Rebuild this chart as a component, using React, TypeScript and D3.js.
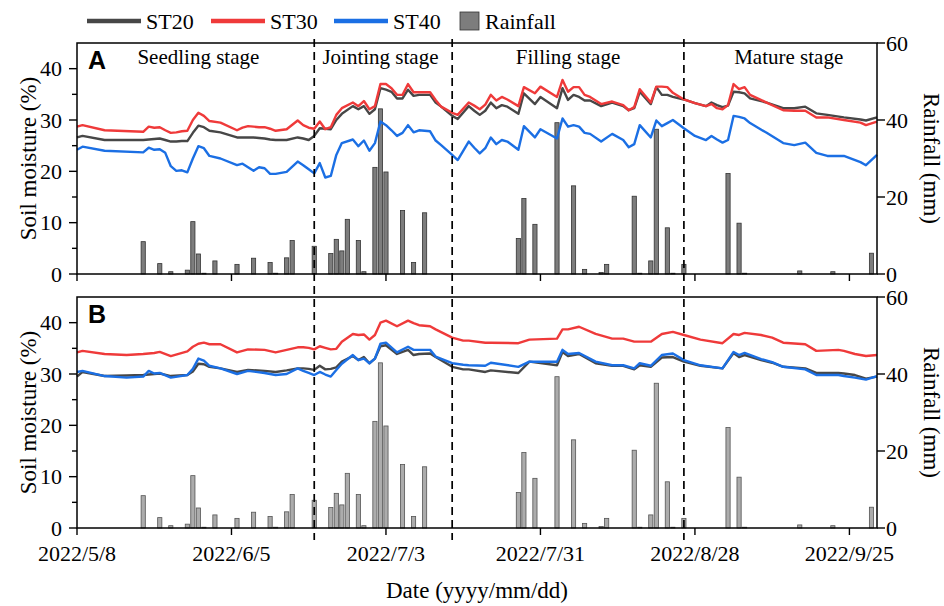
import React, { useEffect, useRef } from 'react';
import * as d3 from 'd3';

// day offsets are counted from 2022/5/8
const START = new Date(2022, 4, 8);
const END = new Date(2022, 8, 30);

const xTickLabels = ['2022/5/8', '2022/6/5', '2022/7/3', '2022/7/31', '2022/8/28', '2022/9/25'];
const stageNames = ['Seedling stage', 'Jointing stage', 'Filling stage', 'Mature stage'];
const stageLabelDates = ['2022/5/30', '2022/7/2', '2022/8/5', '2022/9/14'];
const stageBreaks = ['2022/6/20', '2022/7/15', '2022/8/26'];
const seriesNames = ['ST20', 'ST30', 'ST40'];
const moistureTicks = [0, 10, 20, 30, 40];
const rainTicks = [0, 20, 40, 60];

// Panel A
const daysA = [
  0, 1, 5, 12, 13, 14, 15, 16, 17, 18,
  19, 20, 21, 22, 23, 24, 26, 29, 30, 31,
  32, 33, 34, 35, 36, 38, 40, 41, 42, 43,
  44, 45, 46, 47, 48, 50, 51, 52, 53, 54,
  55, 56, 57, 58, 59, 60, 61, 62, 64, 65,
  66, 68, 69, 71, 72, 73, 74, 75, 76, 77,
  78, 80, 81, 83, 84, 87, 88, 89, 90, 91,
  92, 93, 95, 97, 99, 100, 101, 102, 104, 105,
  106, 107, 108, 110, 112, 114, 115, 116, 117, 118,
  119, 120, 121, 122, 125, 128, 130, 132, 134, 136,
  139, 142, 143, 145,
];
const st20A = [
  26.6, 26.9, 26.1, 26.1, 26.2, 26.3, 26.4, 26.1, 25.8, 25.8,
  25.9, 25.9, 27.5, 28.9, 28.6, 27.9, 27.6, 26.6, 26.6, 26.6,
  26.6, 26.5, 26.4, 26.2, 26.1, 26.1, 26.6, 26.4, 26.1, 26.9,
  28.4, 28.3, 28.2, 30.0, 31.2, 32.7, 32.1, 32.7, 31.2, 32.1,
  36.2, 35.9, 35.5, 34.2, 34.2, 35.9, 34.7, 34.9, 34.9, 33.4,
  32.6, 30.8, 30.2, 32.7, 31.8, 31.0, 31.8, 33.4, 32.3, 32.9,
  32.6, 31.2, 35.2, 33.1, 34.5, 32.3, 36.2, 33.9, 34.9, 34.5,
  33.8, 33.8, 32.7, 33.4, 32.7, 31.9, 32.3, 35.5, 33.1, 36.4,
  34.9, 34.9, 34.5, 34.0, 33.3, 32.7, 33.4, 32.9, 32.5, 32.8,
  35.5, 35.4, 35.2, 34.2, 33.4, 32.3, 32.3, 32.6, 31.3, 31.0,
  30.5, 30.1, 29.9, 30.5,
];
const st30A = [
  28.7, 29.0, 28.0, 27.7, 28.7, 28.5, 28.6, 28.0, 27.5, 27.6,
  27.8, 27.9, 30.0, 31.4, 30.8, 29.8, 29.5, 28.0, 28.5, 28.8,
  28.7, 28.6, 28.6, 28.3, 27.9, 28.2, 29.9, 29.0, 28.5, 28.3,
  29.7, 28.2, 28.6, 31.0, 32.3, 33.4, 32.7, 33.7, 32.1, 32.7,
  37.0, 37.0, 36.2, 34.9, 34.9, 37.0, 35.4, 35.4, 35.4, 33.9,
  32.6, 31.4, 31.0, 33.4, 32.8, 32.1, 33.0, 34.9, 33.8, 34.5,
  34.0, 32.7, 36.4, 35.2, 36.5, 34.5, 37.8, 35.5, 36.4, 36.4,
  34.9, 34.5, 33.1, 33.6, 32.9, 31.9, 32.5, 36.0, 33.4, 36.5,
  36.5, 36.4, 35.3, 34.0, 33.3, 32.7, 33.1, 32.3, 32.1, 32.9,
  37.0, 36.0, 36.4, 34.9, 33.4, 31.9, 31.8, 31.8, 30.5, 30.5,
  30.0, 29.5, 29.0, 29.7,
];
const st40A = [
  24.2, 24.8, 24.0, 23.7, 24.6, 24.2, 24.3, 23.6, 21.0, 20.1,
  20.2, 19.8, 22.5, 24.9, 24.5, 23.0, 22.5, 21.2, 21.5, 20.8,
  20.1, 20.8, 20.6, 19.5, 19.5, 19.9, 21.9, 21.2, 20.4, 19.6,
  21.6, 18.8, 19.1, 23.2, 25.5, 26.2, 24.9, 26.0, 24.0, 25.5,
  29.7, 29.0, 28.0, 26.9, 27.5, 29.0, 27.6, 28.0, 27.8, 26.0,
  25.1, 23.2, 22.2, 25.8, 24.6, 23.5, 24.5, 26.6, 25.3, 26.1,
  25.8, 24.2, 28.8, 26.6, 28.2, 26.4, 30.3, 28.7, 29.0, 28.7,
  27.5, 27.3, 25.8, 27.3, 26.1, 24.7, 25.3, 29.0, 26.6, 29.9,
  28.8, 29.4, 30.0, 28.4, 26.9, 26.1, 26.9, 26.2, 25.6, 26.1,
  30.8, 30.6, 30.3, 29.4, 27.5, 25.5, 25.1, 25.6, 23.6, 23.0,
  23.0, 21.8, 21.2, 23.2,
];

// Panel B
const daysB = [
  0, 1, 5, 9, 12, 13, 14, 15, 17, 20,
  21, 22, 23, 24, 26, 29, 31, 34, 36, 38,
  40, 41, 42, 43, 44, 45, 46, 47, 48, 50,
  51, 52, 53, 54, 55, 56, 58, 60, 61, 62,
  64, 65, 68, 70, 71, 74, 75, 80, 82, 87,
  88, 89, 91, 94, 97, 99, 101, 102, 104, 106,
  108, 110, 113, 117, 119, 120, 121, 124, 126, 128,
  132, 134, 138, 139, 141, 143, 145,
];
const st20B = [
  29.5, 30.4, 29.6, 29.7, 29.8, 29.9, 30.0, 30.1, 29.6, 29.8,
  30.5, 32.0, 31.9, 31.4, 31.1, 30.4, 30.8, 30.6, 30.4, 30.7,
  31.1, 31.1, 31.0, 30.8, 31.6, 30.9, 31.0, 31.3, 32.4, 33.5,
  32.7, 33.3, 32.1, 33.0, 35.4, 35.6, 33.9, 34.7, 33.7, 33.9,
  34.0, 33.3, 31.4, 30.9, 30.9, 30.4, 30.7, 30.2, 32.4, 31.7,
  34.3, 33.5, 33.9, 32.1, 31.6, 31.6, 30.9, 31.7, 31.4, 33.2,
  33.3, 32.4, 31.6, 31.1, 34.1, 33.3, 33.7, 32.7, 32.2, 31.4,
  31.1, 30.2, 30.2, 30.1, 29.8, 29.1, 29.5,
];
const st30B = [
  34.2, 34.5, 33.9, 33.7, 33.9, 34.0, 34.1, 34.3, 33.5, 34.4,
  35.3, 35.9, 36.1, 35.8, 35.8, 34.2, 34.8, 34.7, 34.2, 34.7,
  35.2, 35.2, 35.1, 34.8, 35.4, 35.1, 34.8, 34.9, 36.3, 37.8,
  37.6, 37.7, 36.7, 37.6, 40.0, 40.4, 39.3, 40.4, 39.9, 39.5,
  39.3, 38.7, 37.1, 36.5, 36.5, 36.1, 36.1, 36.0, 36.7, 36.9,
  38.7, 38.7, 39.2, 37.8, 36.9, 36.9, 36.3, 36.3, 36.3, 37.8,
  38.2, 37.6, 36.7, 36.0, 37.8, 37.6, 38.0, 37.6, 37.1, 36.1,
  35.8, 34.5, 34.7, 34.5, 33.9, 33.5, 33.7,
];
const st40B = [
  30.4, 30.6, 29.6, 29.3, 29.5, 30.6, 30.1, 30.2, 29.3, 29.8,
  31.0, 33.0, 32.6, 31.6, 31.1, 30.0, 30.6, 30.2, 29.8, 30.0,
  31.1, 30.6, 30.2, 29.8, 30.4, 29.9, 29.5, 30.8, 32.0, 33.7,
  32.7, 33.0, 32.1, 33.0, 35.9, 36.1, 34.2, 35.3, 34.7, 34.7,
  34.7, 33.4, 32.1, 31.8, 31.7, 31.6, 32.2, 31.4, 32.4, 32.4,
  34.7, 33.9, 34.1, 32.4, 31.7, 31.7, 31.1, 32.1, 31.6, 33.7,
  34.0, 32.7, 31.7, 31.1, 34.3, 33.7, 34.1, 32.9, 32.3, 31.4,
  30.9, 29.8, 29.8, 29.6, 29.3, 28.9, 29.6,
];

// Rainfall (same in both panels)
const rainDays = [
  12, 15, 17, 20, 21, 22, 23, 25, 29, 32,
  35, 36, 38, 39, 43, 46, 47, 48, 49, 51,
  52, 54, 55, 56, 59, 61, 63, 80, 81, 83,
  87, 90, 92, 95, 96, 101, 102, 104, 105, 107,
  108, 110, 118, 120, 121, 131, 137, 144,
];
const rainMm = [
  8.4, 2.7, 0.6, 1.0, 13.6, 5.2, 0.2, 3.4, 2.5, 4.1,
  3.0, 0.2, 4.2, 8.7, 7.2, 5.3, 9.0, 6.0, 14.2, 8.7,
  0.6, 27.7, 42.9, 26.5, 16.5, 3.0, 15.9, 9.2, 19.6, 12.9,
  39.3, 22.9, 1.2, 0.4, 2.5, 20.2, 0.2, 3.4, 37.6, 12.0,
  0.2, 2.5, 26.1, 13.2, 0.2, 0.8, 0.6, 5.4,
];

const COLORS = ['#474747', '#ef3a3a', '#1b6fe4'];
const SERIF = '"Liberation Serif", "Times New Roman", serif';
const SANS = '"Liberation Sans", Arial, sans-serif';

const parseDate = (s: string) => {
  const [y, m, d] = s.split('/').map(Number);
  return new Date(y, m - 1, d);
};
const dayDate = (d: number) => d3.timeDay.offset(START, d);

const App: React.FC = () => {
  const ref = useRef<SVGSVGElement | null>(null);

  useEffect(() => {
    const width = 944, height = 606;
    const left = 77, right = 877;
    const svg = d3.select(ref.current);
    svg.selectAll('*').remove();

    const x = d3.scaleTime().domain([START, END]).range([left, right]);

    const panels = [
      { label: 'A', top: 43, bottom: 274, series: [st20A, st30A, st40A], days: daysA, barFill: '#7d7d7d', barStroke: '#333' },
      { label: 'B', top: 297, bottom: 528, series: [st20B, st30B, st40B], days: daysB, barFill: '#acacac', barStroke: '#555' },
    ];

    panels.forEach((p, pi) => {
      const yL = d3.scaleLinear().domain([0, 45]).range([p.bottom, p.top]);
      const yR = d3.scaleLinear().domain([0, 60]).range([p.bottom, p.top]);
      const g = svg.append('g');

      // rainfall bars
      const bw = 4.2;
      rainDays.forEach((d, i) => {
        const y0 = yR(rainMm[i]);
        g.append('rect')
          .attr('x', x(dayDate(d)) - bw / 2)
          .attr('y', y0)
          .attr('width', bw)
          .attr('height', p.bottom - y0)
          .attr('fill', p.barFill)
          .attr('stroke', p.barStroke)
          .attr('stroke-width', 0.8);
      });

      // soil moisture lines
      p.series.forEach((vals, si) => {
        const line = d3.line<number>()
          .x((_, i) => x(dayDate(p.days[i])))
          .y(v => yL(v));
        g.append('path')
          .attr('d', line(vals))
          .attr('fill', 'none')
          .attr('stroke', COLORS[si])
          .attr('stroke-width', 2.4)
          .attr('stroke-linejoin', 'round');
      });

      // frame
      g.append('rect')
        .attr('x', left).attr('y', p.top)
        .attr('width', right - left).attr('height', p.bottom - p.top)
        .attr('fill', 'none').attr('stroke', '#000').attr('stroke-width', 1.5);

      // left axis
      for (let v = 0; v <= 40; v += 5) {
        const major = v % 10 === 0;
        g.append('line')
          .attr('x1', left - (major ? 8 : 5)).attr('x2', left)
          .attr('y1', yL(v)).attr('y2', yL(v))
          .attr('stroke', '#000').attr('stroke-width', 1.4);
      }
      moistureTicks.forEach(v => {
        g.append('text')
          .attr('x', left - 15).attr('y', yL(v))
          .attr('dy', '0.35em')
          .attr('text-anchor', 'end')
          .style('font-family', SERIF).style('font-size', '22px')
          .text(v);
      });

      // right axis
      rainTicks.forEach(v => {
        g.append('line')
          .attr('x1', right).attr('x2', right + 8)
          .attr('y1', yR(v)).attr('y2', yR(v))
          .attr('stroke', '#000').attr('stroke-width', 1.4);
        g.append('text')
          .attr('x', right + 4 + 1).attr('y', yR(v))
          .attr('dx', 4)
          .attr('dy', '0.35em')
          .style('font-family', SERIF).style('font-size', '22px')
          .text(v);
      });

      // bottom ticks
      xTickLabels.forEach(s => {
        const xx = x(parseDate(s));
        g.append('line')
          .attr('x1', xx).attr('x2', xx)
          .attr('y1', p.bottom).attr('y2', p.bottom + 7)
          .attr('stroke', '#000').attr('stroke-width', 1.4);
        if (pi === 1) {
          g.append('text')
            .attr('x', xx).attr('y', 561)
            .attr('text-anchor', 'middle')
            .style('font-family', SERIF).style('font-size', '22px')
            .text(s);
        }
      });

      // panel letter
      g.append('text')
        .attr('x', 88).attr('y', p.top + 26)
        .style('font-family', SANS).style('font-weight', 'bold').style('font-size', '25px')
        .text(p.label);

      // axis titles
      const cy = (p.top + p.bottom) / 2;
      g.append('text')
        .attr('transform', `translate(36, ${cy}) rotate(-90)`)
        .attr('text-anchor', 'middle')
        .style('font-family', SERIF).style('font-size', '23px')
        .text('Soil moisture (%)');
      g.append('text')
        .attr('transform', `translate(924, ${cy}) rotate(90)`)
        .attr('text-anchor', 'middle')
        .style('font-family', SERIF).style('font-size', '23px')
        .text('Rainfall (mm)');

      if (pi === 0) {
        stageNames.forEach((name, i) => {
          g.append('text')
            .attr('x', x(parseDate(stageLabelDates[i]))).attr('y', 64)
            .attr('text-anchor', 'middle')
            .style('font-family', SERIF).style('font-size', '21px')
            .text(name);
        });
      }
    });

    // stage boundaries across both panels
    stageBreaks.forEach(s => {
      const xx = x(parseDate(s));
      svg.append('line')
        .attr('x1', xx).attr('x2', xx)
        .attr('y1', 39).attr('y2', 540)
        .attr('stroke', '#000').attr('stroke-width', 1.7)
        .attr('stroke-dasharray', '8,5');
    });

    // x title
    svg.append('text')
      .attr('x', 477).attr('y', 598)
      .attr('text-anchor', 'middle')
      .style('font-family', SERIF).style('font-size', '23px')
      .text('Date (yyyy/mm/dd)');

    // legend
    const legend = svg.append('g');
    const legendX = [87, 211, 334];
    seriesNames.forEach((name, i) => {
      legend.append('line')
        .attr('x1', legendX[i]).attr('x2', legendX[i] + 54)
        .attr('y1', 21).attr('y2', 21)
        .attr('stroke', COLORS[i]).attr('stroke-width', 4.5);
      legend.append('text')
        .attr('x', legendX[i] + 59).attr('y', 29)
        .style('font-family', SERIF).style('font-size', '22px')
        .text(name);
    });
    legend.append('rect')
      .attr('x', 460).attr('y', 12).attr('width', 19).attr('height', 18)
      .attr('fill', '#7d7d7d').attr('stroke', '#333').attr('stroke-width', 0.8);
    legend.append('text')
      .attr('x', 485).attr('y', 29)
      .style('font-family', SERIF).style('font-size', '22px')
      .text('Rainfall');

    svg.attr('width', width).attr('height', height);
  }, []);

  return (
    <svg
      ref={ref}
      width={944}
      height={606}
      style={{ position: 'absolute', left: 0, top: 0, background: '#fff' }}
    />
  );
};

export default App;
